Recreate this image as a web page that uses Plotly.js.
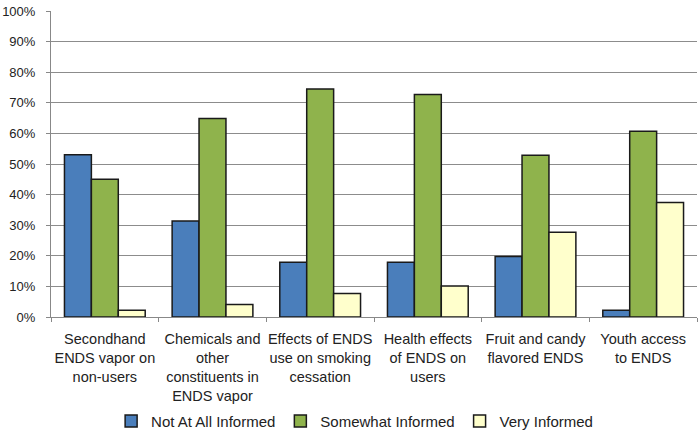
<!DOCTYPE html>
<html>
<head>
<meta charset="utf-8">
<script src="https://cdn.plot.ly/plotly-3.0.1.min.js"></script>
<style>
  html, body { margin: 0; padding: 0; background: #fff; }
  #chart { width: 700px; height: 432px; }
</style>
</head>
<body>
<div id="chart"></div>
<script>
// categories (multi-line labels as shown under the axis)
const categories = [
    'Secondhand<br>ENDS vapor on<br>non-users',
    'Chemicals and<br>other<br>constituents in<br>ENDS vapor',
    'Effects of ENDS<br>use on smoking<br>cessation',
    'Health effects<br>of ENDS on<br>users',
    'Fruit and candy<br>flavored ENDS',
    'Youth access<br>to ENDS'
];

// shares, in percent
const notAtAll = [53, 31.4, 17.9, 17.9, 19.8, 2.2];
const somewhat = [45, 64.9, 74.5, 72.7, 52.9, 60.7];
const very = [2.2, 4.1, 7.7, 10.1, 27.7, 37.4];

const seriesNames = ['Not At All Informed', 'Somewhat Informed', 'Very Informed'];
const seriesColors = ['#4a7ebb', '#8fb34c', '#ffffcc'];

const FONT = '"Liberation Sans", Arial, sans-serif';

const traces = [notAtAll, somewhat, very].map((vals, i) => ({
    x: categories,
    y: vals,
    type: 'bar',
    name: seriesNames[i],
    marker: {
        color: seriesColors[i],
        line: { color: '#1a1a1a', width: 1.5 }
    },
    hoverinfo: 'skip'
}));

const layout = {
    width: 700,
    height: 432,
    margin: { l: 51, r: 3, t: 11, b: 115, autoexpand: false },
    paper_bgcolor: '#ffffff',
    plot_bgcolor: '#ffffff',
    font: { family: FONT, size: 13, color: '#222' },
    barmode: 'group',
    bargap: 0.25,
    bargroupgap: 0,
    showlegend: true,
    legend: {
        orientation: 'h',
        x: 0.47,
        xanchor: 'center',
        yref: 'container',
        y: 0.025,
        yanchor: 'middle',
        bgcolor: 'rgba(0,0,0,0)',
        font: { family: FONT, size: 15, color: '#222' },
        itemwidth: 30,
        tracegroupgap: 0
    },
    xaxis: {
        type: 'category',
        showline: true,
        linecolor: '#888',
        linewidth: 1,
        ticks: 'outside',
        tickson: 'boundaries',
        ticklen: 4,
        tickcolor: '#888',
        showgrid: false,
        ticklabelstandoff: 9,
        tickfont: { family: FONT, size: 14.5, color: '#222' },
        tickangle: 0
    },
    yaxis: {
        range: [0, 100],
        dtick: 10,
        ticksuffix: '%',
        showline: true,
        linecolor: '#888',
        linewidth: 1,
        showgrid: true,
        gridcolor: '#8c8c8c',
        gridwidth: 1,
        zeroline: false,
        ticks: 'outside',
        ticklen: 4,
        tickcolor: '#888',
        ticklabelstandoff: 8,
        tickfont: { family: FONT, size: 13, color: '#222' }
    }
};

Plotly.newPlot('chart', traces, layout, { displayModeBar: false, staticPlot: true });
</script>
</body>
</html>
